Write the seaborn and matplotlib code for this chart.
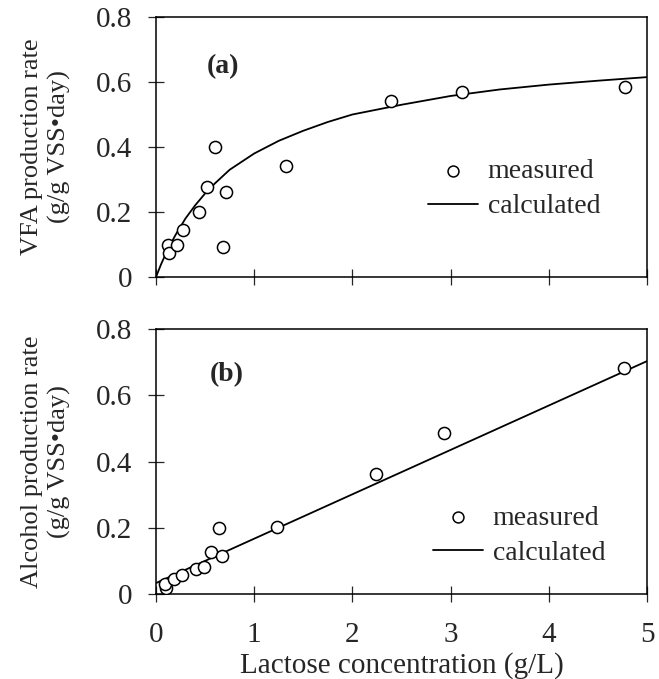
import matplotlib
matplotlib.use("Agg")
import matplotlib.pyplot as plt
import numpy as np
import pandas as pd
import seaborn as sns

# (a) VFA production rate
vfa_x = [0.12, 0.13, 0.21, 0.28, 0.44, 0.52, 0.60, 0.71, 0.68, 1.32, 2.39, 3.12, 4.78]
vfa_y = [0.098, 0.074, 0.098, 0.145, 0.200, 0.277, 0.400, 0.260, 0.092, 0.342, 0.542, 0.570, 0.585]
vfa_calc_x = [0, 0.05, 0.1, 0.15, 0.2, 0.3, 0.4, 0.5, 0.6, 0.75, 0.9, 1.0, 1.25, 1.5,
              1.75, 2.0, 2.5, 3.0, 3.5, 4.0, 4.5, 5.0]
vfa_calc_y = [0, 0.038, 0.072, 0.102, 0.13, 0.18, 0.221, 0.257, 0.288, 0.33, 0.36, 0.38,
              0.419, 0.45, 0.477, 0.50, 0.53, 0.557, 0.577, 0.592, 0.604, 0.615]

# (b) Alcohol production rate
alc_x = [0.10, 0.09, 0.18, 0.26, 0.41, 0.49, 0.56, 0.64, 0.67, 1.23, 2.24, 2.93, 4.77]
alc_y = [0.018, 0.030, 0.045, 0.057, 0.075, 0.082, 0.127, 0.200, 0.115, 0.203, 0.362, 0.486, 0.682]
alc_calc_x = [0, 5]
alc_calc_y = [0.033, 0.703]

x_ticks = [0, 1, 2, 3, 4, 5]
y_ticks = [0, 0.2, 0.4, 0.6, 0.8]
y_tick_labels = ["0", "0.2", "0.4", "0.6", "0.8"]

sns.set_style("ticks")
plt.rcParams["font.family"] = ["Liberation Serif", "DejaVu Serif"]
plt.rcParams["font.size"] = 20

fig = plt.figure(figsize=(6.59, 6.79), dpi=100)
W, H = 659, 679


def make_axes(left, top, right, bottom):
    return fig.add_axes([left / W, 1 - bottom / H, (right - left) / W, (bottom - top) / H])


ax1 = make_axes(156, 17, 647, 277)
ax2 = make_axes(156, 329, 647, 594)

panels = [
    (ax1, vfa_x, vfa_y, vfa_calc_x, vfa_calc_y, "VFA production rate\n(g/g VSS\u2022day)", "(a)",
     (0.554, 0.338), (223, 67)),
    (ax2, alc_x, alc_y, alc_calc_x, alc_calc_y, "Alcohol production rate\n(g/g VSS\u2022day)", "(b)",
     (0.564, 0.221), (227, 375)),
]

for ax, mx, my, cx, cy, ylab, tag, leg_pos, tag_pos in panels:
    meas = pd.DataFrame({"x": mx, "y": my})
    calc = pd.DataFrame({"x": cx, "y": cy})
    sns.scatterplot(data=meas, x="x", y="y", ax=ax, marker="o", s=76,
                    facecolor="white", edgecolor="black", linewidth=1.1,
                    label="measured", zorder=3)
    sns.lineplot(data=calc, x="x", y="y", ax=ax, color="black", linewidth=1.3,
                 label="calculated", zorder=2)
    ax.set_xlim(0, 5)
    ax.set_ylim(0, 0.8)
    ax.set_xticks(x_ticks)
    ax.set_yticks(y_ticks)
    ax.set_yticklabels(y_tick_labels)
    ax.tick_params(direction="inout", length=12, width=0.9, labelsize=21)
    ax.tick_params(axis="x", pad=14)
    ax.tick_params(axis="y", pad=11)
    for s in ax.spines.values():
        s.set_linewidth(1.1)
        s.set_color("black")
    ax.set_ylabel(ylab, fontsize=19, linespacing=1.3)
    ax.yaxis.set_label_coords(-0.173, 0.5)
    ax.set_xlabel("")
    fig.text(tag_pos[0] / W, 1 - tag_pos[1] / H, tag, fontsize=20, fontweight="bold",
             ha="center", va="center")
    ax.legend(loc="center left", bbox_to_anchor=leg_pos, frameon=False, fontsize=20,
              handlelength=1.8, handletextpad=0.35, labelspacing=0.35,
              borderpad=0, borderaxespad=0, markerscale=0.9)

ax1.set_xticklabels([])
ax2.set_xticklabels([str(t) for t in x_ticks])
ax2.set_xlabel("Lactose concentration (g/L)", fontsize=21, labelpad=3)

fig.savefig("out.png", dpi=100)
